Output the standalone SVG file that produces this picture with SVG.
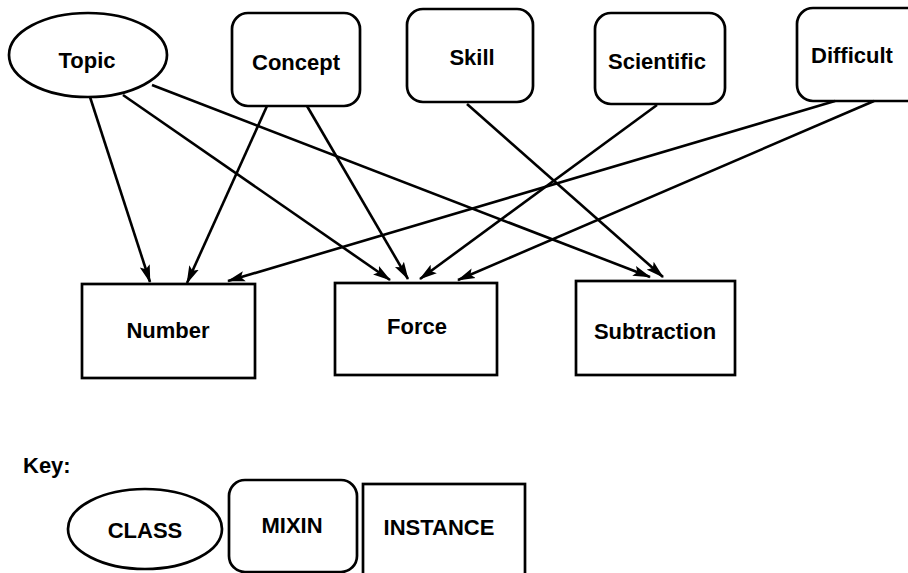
<svg xmlns="http://www.w3.org/2000/svg" width="908" height="573" viewBox="0 0 908 573">
  <style>
    .shape { fill: #ffffff; stroke: #000000; stroke-width: 2.7; }
    .label { font-family: "Liberation Sans", Arial, Helvetica, sans-serif; font-weight: bold; font-size: 22px; fill: #000000; text-anchor: middle; }
    .edge { stroke: #000000; stroke-width: 2.6; fill: none; marker-end: url(#arrow); }
  </style>
  <defs>
    <marker id="arrow" markerUnits="userSpaceOnUse" markerWidth="18" markerHeight="12" viewBox="0 0 18 12" refX="17" refY="6" orient="auto">
      <path d="M0,0.8 L18,6 L0,11.2 L3.5,6 Z" fill="#000000"/>
    </marker>
  </defs>
  <rect width="908" height="573" fill="#ffffff"/>

  <!-- upper row: class and mixins -->
  <g id="node-topic">
    <ellipse class="shape" cx="88" cy="55" rx="79" ry="42"/>
    <text class="label" x="87" y="68">Topic</text>
  </g>
  <g id="node-concept">
    <rect class="shape" x="232" y="13" width="128" height="93" rx="16"/>
    <text class="label" x="296" y="70">Concept</text>
  </g>
  <g id="node-skill">
    <rect class="shape" x="407" y="9" width="126" height="93" rx="16"/>
    <text class="label" x="472" y="65">Skill</text>
  </g>
  <g id="node-scientific">
    <rect class="shape" x="595" y="13" width="130" height="91" rx="16"/>
    <text class="label" x="657" y="69">Scientific</text>
  </g>
  <g id="node-difficult">
    <rect class="shape" x="797" y="8" width="130" height="93" rx="16"/>
    <text class="label" x="852" y="63">Difficult</text>
  </g>

  <!-- lower row: instances -->
  <g id="node-number">
    <rect class="shape" x="82" y="284" width="173" height="94"/>
    <text class="label" x="168" y="338">Number</text>
  </g>
  <g id="node-force">
    <rect class="shape" x="335" y="283" width="162" height="92"/>
    <text class="label" x="417" y="334">Force</text>
  </g>
  <g id="node-subtraction">
    <rect class="shape" x="576" y="281" width="159" height="94"/>
    <text class="label" x="655" y="339">Subtraction</text>
  </g>

  <!-- connectors -->
  <g id="connectors">
    <line class="edge" x1="90" y1="97" x2="150" y2="282"/>
    <line class="edge" x1="123" y1="95" x2="390" y2="280"/>
    <line class="edge" x1="152" y1="85" x2="650" y2="277"/>
    <line class="edge" x1="267" y1="106" x2="187" y2="283"/>
    <line class="edge" x1="307" y1="106" x2="408" y2="279"/>
    <line class="edge" x1="467" y1="104" x2="663" y2="277"/>
    <line class="edge" x1="657" y1="105" x2="420" y2="279"/>
    <line class="edge" x1="835" y1="101" x2="228" y2="281"/>
    <line class="edge" x1="874" y1="101" x2="458" y2="280"/>
  </g>

  <!-- key -->
  <g id="key">
    <text class="label" x="23" y="473" style="text-anchor:start">Key:</text>
  </g>
  <g id="key-class">
    <ellipse class="shape" cx="145" cy="529" rx="77" ry="40"/>
    <text class="label" x="145" y="538">CLASS</text>
  </g>
  <g id="key-mixin">
    <rect class="shape" x="229" y="480" width="128" height="92" rx="16"/>
    <text class="label" x="292" y="533">MIXIN</text>
  </g>
  <g id="key-instance">
    <rect class="shape" x="363" y="484" width="162" height="110"/>
    <text class="label" x="439" y="535">INSTANCE</text>
  </g>
</svg>
